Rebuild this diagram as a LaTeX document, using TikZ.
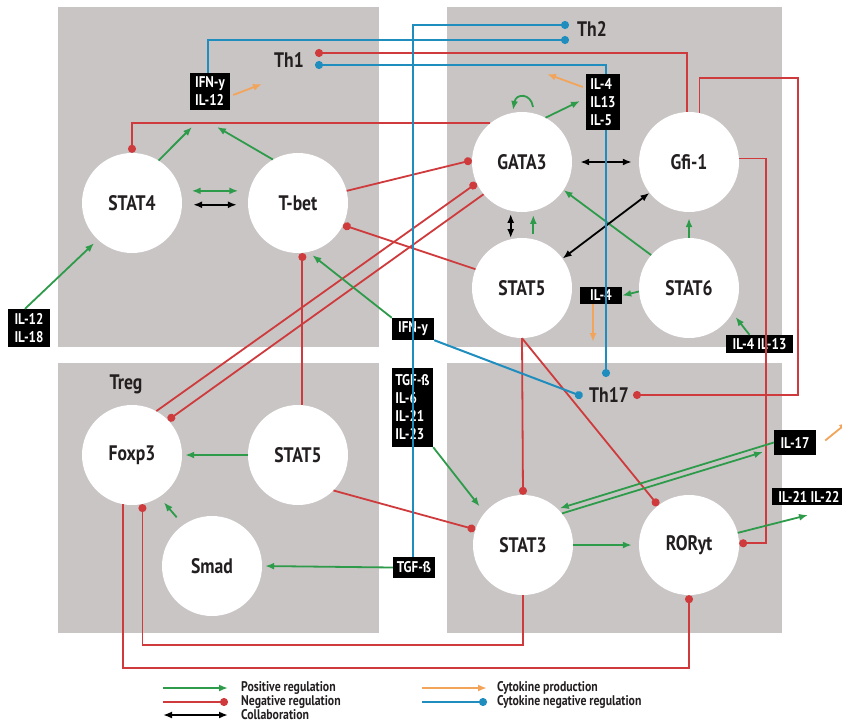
\documentclass[tikz,border=0pt]{standalone}
\usepackage{fontspec}
\setmainfont{PT Sans}[FakeStretch=0.84]
\usetikzlibrary{arrows.meta,calc}
\definecolor{panel}{HTML}{C9C5C4}
\definecolor{gcol}{HTML}{2E9B4B}
\definecolor{rcol}{HTML}{CF3A3C}
\definecolor{bcol}{HTML}{1F8DBE}
\definecolor{ocol}{HTML}{F2A55A}
\definecolor{txt}{HTML}{231F20}
\begin{document}
\begin{tikzpicture}[x=1pt,y=-1pt,
 cell/.style={circle, fill=white, minimum size=100pt, inner sep=0pt, font=\fontsize{21}{21}\selectfont\bfseries, text=txt},
 lbl/.style={font=\fontsize{21}{21}\selectfont\bfseries, text=txt, inner sep=0pt},
 cyto/.style={fill=black, text=white, font=\fontsize{15.5}{18}\selectfont\bfseries, align=left, inner sep=0pt},
 tipa/.tip={Latex[length=9pt,width=7pt]},
 posreg/.style={draw=gcol, line width=1.8pt, -tipa},
 pos2reg/.style={draw=gcol, line width=1.8pt, tipa-tipa},
 negreg/.style={draw=rcol, line width=1.8pt, -{Circle[length=8pt]}},
 collabreg/.style={draw=black, line width=1.8pt, tipa-tipa},
 prodreg/.style={draw=ocol, line width=1.8pt, -tipa},
 cnegreg/.style={draw=bcol, line width=2pt, -{Circle[length=8pt]}},
 legtext/.style={font=\fontsize{14}{14}\selectfont\bfseries, text=txt, anchor=west, inner sep=0pt}
]
\useasboundingbox[fill=white] (0,0) rectangle (842,725);
% panels
\fill[panel] (58,7) rectangle (379,347);
\fill[panel] (447,7) rectangle (782,347);
\fill[panel] (58,363) rectangle (379,633);
\fill[panel] (447,363) rectangle (782,633);

% cells
\node[cell] (stat4) at (132,203) {STAT4};
\node[cell] (tbet) at (298,203) {T-bet};
\node[cell] (gata3) at (522,162) {GATA3};
\node[cell] (gfi) at (689,162) {Gfi-1};
\node[cell] (stat5a) at (522,288) {STAT5};
\node[cell] (stat6) at (689,288) {STAT6};
\node[cell] (foxp3) at (132,455) {Foxp3};
\node[cell] (stat5b) at (298,455) {STAT5};
\node[cell] (smad) at (212,566) {Smad};
\node[cell] (stat3) at (523,545) {STAT3};
\node[cell] (roryt) at (689,545) {RORyt};

% labels
\node[lbl] (th1) at (289,60) {Th1};
\node[lbl] (th2) at (592,29) {Th2};
\node[lbl] (th17) at (609,395) {Th17};
\node[lbl] (treg) at (126,384) {Treg};

% cytokine boxes
\node[cyto, minimum width=40pt, minimum height=37pt] (ifn12) at (210,91.5) {IFN-y\\IL-12};
\node[cyto, minimum width=34pt, minimum height=56pt] (il4box) at (603,102) {IL-4\\IL13\\IL-5};
\node[cyto, minimum width=42pt, minimum height=38pt] (il1218) at (29,328) {IL-12\\IL-18};
\node[cyto, minimum width=42pt, minimum height=22pt] (ifnm) at (413,329) {IFN-y};
\node[cyto, minimum width=41pt, minimum height=79pt] (tgf4) at (412.5,407.5) {TGF-ß\\IL-6\\IL-21\\IL-23};
\node[cyto, minimum width=42pt, minimum height=21pt] (tgfb) at (414,567.5) {TGF-ß};
\node[cyto, minimum width=42pt, minimum height=17pt] (il4s) at (601,295.5) {IL-4};
\node[cyto, minimum width=67pt, minimum height=18pt] (il413) at (759.5,344) {IL-4 IL-13};
\node[cyto, minimum width=42pt, minimum height=25pt] (il17) at (795,442.5) {IL-17};
\node[cyto, minimum width=74pt, minimum height=17pt] (il2122) at (809,496.5) {IL-21 IL-22};

% free ends
\coordinate (th2a) at (569,25);
\coordinate (th2b) at (569,40);
\coordinate (th1r) at (315,53);
\coordinate (th1b) at (315,65);
\coordinate (th17t) at (606,377);
\coordinate (th17l) at (582.5,396.5);
\coordinate (th17r) at (633,395);
\coordinate (ifnin1) at (192,127);
\coordinate (ifnin2) at (217,127);
\coordinate (gl1) at (533,107);
\coordinate (gl2) at (513,110);
\coordinate (il4in) at (580,101);
\coordinate (il17in) at (763,452);
\coordinate (il22in) at (808,515);
\coordinate (o1) at (262,84);
\coordinate (o2) at (547,74);
\coordinate (o3) at (593,342);
\coordinate (o4) at (848,422);

% negative regulation
\draw[negreg] (gfi.92) |- (th1r);
\draw[negreg] (gfi.78) |- (798,78) |- (th17r);
\draw[negreg] (gfi.4) -| ([xshift=27pt]roryt.2) -- (roryt.2);
\draw[negreg] (gata3.129) -| (stat4.north);
\draw[negreg] (tbet.14) -- (gata3.178);
\draw[negreg] (stat5a.158) -- (tbet.-26);
\draw[negreg] (foxp3.61) -- (gata3.205);
\draw[negreg] (gata3.220) -- (foxp3.44);
\draw[negreg] (stat5b.85) -- (tbet.275);
\draw[negreg] (stat5b.-45) -- (stat3.162);
\draw[negreg] (stat5a.south) -- (stat3.north);
\draw[negreg] (stat5a.south) -- (roryt.128);
\draw[negreg] (stat3.south) |- (foxp3.-78 |- 0,645) -- (foxp3.-78);
\draw[negreg] (foxp3.-100) |- (roryt.south |- 0,668) -- (roryt.south);

% positive regulation and collaboration
\draw[posreg] (stat4.58) -- (ifnin1);
\draw[posreg] (tbet.120) -- (ifnin2);
\draw[pos2reg, shorten <=11pt, shorten >=11pt] (stat4.14) -- (tbet.166);
\draw[collabreg, shorten <=11pt, shorten >=11pt] (stat4.-2) -- (tbet.182);
\draw[posreg, shorten >=5pt] ([xshift=-4pt]il1218.north) -- (stat4.227);
\draw[posreg, shorten >=5pt] (ifnm.north west) -- (tbet.-78);
\draw[posreg] (gl1) .. controls (531,93) and (516,93) .. (gl2);
\draw[posreg] (gata3.62) -- (il4in);
\draw[collabreg, shorten <=8pt, shorten >=7pt] (gata3.east) -- (gfi.west);
\draw[collabreg, shorten <=3pt, shorten >=1pt] (gata3.-103) -- (stat5a.103);
\draw[posreg, shorten <=5pt, shorten >=4pt] (stat5a.77) -- (gata3.-77);
\draw[posreg] (stat6.139) -- (gata3.-34);
\draw[collabreg] (stat5a.36) -- (gfi.218);
\draw[posreg, shorten >=6pt] (stat6.north) -- (gfi.south);
\draw[posreg] (stat6.184) -- (il4s.east);
\draw[posreg, shorten >=5pt] ([xshift=-10pt]il413.north) -- (stat6.-30);
\draw[posreg, shorten >=8pt] (tgf4.south east) -- (stat3.140);
\draw[posreg] (stat3.39) -- (il17in);
\draw[posreg, shorten >=2pt] (il17.west) -- (stat3.46);
\draw[posreg, shorten >=7pt] (stat3.east) -- (roryt.west);
\draw[posreg] (roryt.14) -- (il22in);
\draw[posreg, shorten >=3pt] (stat5b.west) -- (foxp3.east);
\draw[posreg, shorten <=10pt, shorten >=7pt] (smad.125) -- (foxp3.-57);
\draw[posreg, shorten >=3pt] (tgfb.west) -- (smad.east);

% cytokine production
\draw[prodreg] ([shift={(3pt,-3.5pt)}]ifn12.east) -- (o1);
\draw[prodreg] ([shift={(-3pt,15pt)}]il4box.west) -- (o2);
\draw[prodreg] ([xshift=-8pt]il4s.south) -- (o3);
\draw[prodreg] ([shift={(9pt,2pt)}]il17.east) -- (o4);

% cytokine negative regulation
\draw[cnegreg] ([xshift=-2pt]ifn12.north) |- (th2b);
\draw[cnegreg] ([xshift=-1pt]tgfb.north) |- (th2a);
\draw[cnegreg] ([xshift=3pt]il4box.north) |- (th1b);
\draw[cnegreg] ([xshift=3pt]il4box.south) -- (th17t);
\draw[cnegreg] (ifnm.south east) -- (th17l);

% legend
\coordinate (lg1a) at (163,688); \coordinate (lg1b) at (228,688);
\coordinate (lg2a) at (163,702); \coordinate (lg2b) at (228,702);
\coordinate (lg3a) at (163,715); \coordinate (lg3b) at (228,715);
\coordinate (lg4a) at (422,688); \coordinate (lg4b) at (487,688);
\coordinate (lg5a) at (422,702); \coordinate (lg5b) at (487,702);
\draw[posreg] (lg1a) -- (lg1b);
\draw[negreg] (lg2a) -- (lg2b);
\draw[collabreg] (lg3a) -- (lg3b);
\draw[prodreg] (lg4a) -- (lg4b);
\draw[cnegreg] (lg5a) -- (lg5b);
\node[legtext] (lt1) at (241,688) {Positive regulation};
\node[legtext] (lt2) at (241,702) {Negative regulation};
\node[legtext] (lt3) at (241,715) {Collaboration};
\node[legtext] (lt4) at (497,688) {Cytokine production};
\node[legtext] (lt5) at (497,702) {Cytokine negative regulation};
\end{tikzpicture}
\end{document}
